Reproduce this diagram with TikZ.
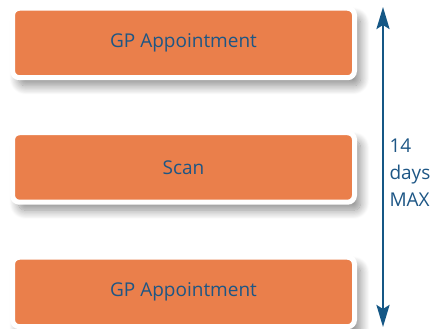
\documentclass[tikz,border=0pt]{standalone}
\usepackage{fontspec}
\setmainfont{Open Sans}
\usetikzlibrary{arrows.meta}
\usetikzlibrary{shadows.blur}
\definecolor{stepfill}{HTML}{EA7F4B}
\definecolor{textblue}{HTML}{1D5685}
\definecolor{spanblue}{HTML}{155785}

\begin{document}
\begin{tikzpicture}
			[x=1pt,y=1pt,
			 stepbox/.style={rectangle,rounded corners=7pt,fill=stepfill,draw=white,line width=5pt,
			  minimum width=342pt,minimum height=69.5pt,text=textblue,font=\fontsize{19}{22}\selectfont,
			  blur shadow={shadow xshift=6pt,shadow yshift=-8pt,shadow blur radius=9pt,shadow blur steps=16,shadow opacity=45}},
			 span/.style={line width=2.6pt,spanblue,{Stealth[length=22pt,width=13pt,inset=4pt]}-{Stealth[length=22pt,width=13pt,inset=4pt]}},
			 note/.style={align=left,anchor=west,text=textblue,font=\fontsize{19}{27}\selectfont}]

			\useasboundingbox (0,0) rectangle (440,329);

			\node[stepbox] (gp1) at (183.5,286) {GP Appointment};
			\node[stepbox] (scan) at (183.5,161.5) {Scan};
			\node[stepbox] (gp2) at (183.5,37) {GP Appointment};

			\coordinate (top) at (383,322);
			\coordinate (bottom) at (383,2);
			\draw[span] (bottom) -- (top);

			\node[note] (limit) at (386,156) {14\\days\\MAX};
		\end{tikzpicture}
\end{document}
